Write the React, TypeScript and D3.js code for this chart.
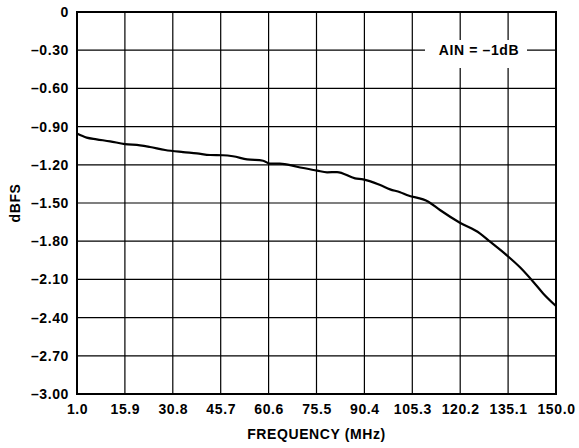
import React, { useEffect, useRef } from "react";
import * as d3 from "d3";

// frequency (MHz) and amplitude (dBFS)
const freq = [
  1.0, 4.0, 7.1, 11.3, 15.9, 20.6, 23.7, 28.4, 34.0, 38.3, 42.4, 46.4, 49.5,
  53.9, 58.9, 61.0, 64.1, 69.4, 75.7, 78.8, 81.9, 87.5, 90.0, 95.3, 98.4,
  101.5, 103.6, 110.3, 113.9, 120.1, 126.3, 129.5, 135.2, 138.8, 142.9, 146.0,
  150.0,
];
const dbfs = [
  -0.955, -0.987, -1.0, -1.016, -1.037, -1.047, -1.06, -1.084, -1.1, -1.11,
  -1.123, -1.125, -1.133, -1.157, -1.168, -1.19, -1.19, -1.215, -1.246,
  -1.259, -1.257, -1.306, -1.314, -1.359, -1.393, -1.415, -1.437, -1.49,
  -1.555, -1.655, -1.738, -1.804, -1.922, -2.005, -2.118, -2.21, -2.309,
];
const xTicks = [1.0, 15.9, 30.8, 45.7, 60.6, 75.5, 90.4, 105.3, 120.2, 135.1, 150.0];
const yTicks = [0, -0.3, -0.6, -0.9, -1.2, -1.5, -1.8, -2.1, -2.4, -2.7, -3.0];
const note = "AIN = \u20131dB";

export default function App() {
  const ref = useRef<SVGSVGElement>(null);

  useEffect(() => {
    const svg = d3.select(ref.current);
    svg.selectAll("*").remove();
    const margin = { top: 12, right: 23, bottom: 54, left: 77 };
    const width = 579 - margin.left - margin.right;
    const height = 448 - margin.top - margin.bottom;
    const font = "'Liberation Sans', Arial, sans-serif";
    const fs = 14;
    const ls = "0.6px";

    const x = d3.scaleLinear().domain([1, 150]).range([0, width]);
    const y = d3.scaleLinear().domain([-3, 0]).range([height, 0]);

    const g = svg
      .append("g")
      .attr("transform", `translate(${margin.left},${margin.top})`);

    // grid
    g.append("g")
      .selectAll("line")
      .data(xTicks)
      .join("line")
      .attr("x1", (d) => x(d))
      .attr("x2", (d) => x(d))
      .attr("y1", 0)
      .attr("y2", height)
      .attr("stroke", "#000")
      .attr("stroke-width", 1.2);
    g.append("g")
      .selectAll("line")
      .data(yTicks)
      .join("line")
      .attr("x1", 0)
      .attr("x2", width)
      .attr("y1", (d) => y(d))
      .attr("y2", (d) => y(d))
      .attr("stroke", "#000")
      .attr("stroke-width", 1.2);

    // annotation box covers the grid
    g.append("rect")
      .attr("x", 348)
      .attr("y", 28)
      .attr("width", 102)
      .attr("height", 28)
      .attr("fill", "#fff");
    g.append("text")
      .attr("x", 402)
      .attr("y", y(-0.3))
      .attr("dy", "0.35em")
      .attr("text-anchor", "middle")
      .attr("font-family", font)
      .attr("font-weight", "bold")
      .attr("font-size", fs)
      .attr("letter-spacing", ls)
      .text(note);

    // frame
    g.append("rect")
      .attr("width", width)
      .attr("height", height)
      .attr("fill", "none")
      .attr("stroke", "#000")
      .attr("stroke-width", 2);

    // curve
    const line = d3
      .line<number>()
      .x((d, i) => x(freq[i]))
      .y((d) => y(d))
      .curve(d3.curveMonotoneX);
    g.append("path")
      .datum(dbfs)
      .attr("fill", "none")
      .attr("stroke", "#000")
      .attr("stroke-width", 2.2)
      .attr("d", line);

    // axes
    const xAxis = g
      .append("g")
      .attr("transform", `translate(0,${height})`)
      .call(
        d3
          .axisBottom(x)
          .tickValues(xTicks)
          .tickSize(0)
          .tickPadding(10)
          .tickFormat((d) => d3.format(".1f")(d as number))
      );
    xAxis.select(".domain").remove();
    xAxis
      .selectAll("text")
      .attr("font-family", font)
      .attr("font-weight", "bold")
      .attr("font-size", fs)
      .attr("letter-spacing", ls)
      .attr("fill", "#000");

    const yAxis = g.append("g").call(
      d3
        .axisLeft(y)
        .tickValues(yTicks)
        .tickSize(0)
        .tickPadding(8)
        .tickFormat((d) =>
          d === 0 ? "0" : "\u2013" + d3.format(".2f")(Math.abs(d as number))
        )
    );
    yAxis.select(".domain").remove();
    yAxis
      .selectAll("text")
      .attr("font-family", font)
      .attr("font-weight", "bold")
      .attr("font-size", fs)
      .attr("letter-spacing", ls)
      .attr("fill", "#000");

    svg
      .append("text")
      .attr("x", margin.left + width / 2)
      .attr("y", 439)
      .attr("text-anchor", "middle")
      .attr("font-family", font)
      .attr("font-weight", "bold")
      .attr("font-size", fs)
      .attr("letter-spacing", ls)
      .text("FREQUENCY (MHz)");
    svg
      .append("text")
      .attr("transform", `translate(20,${margin.top + height / 2}) rotate(-90)`)
      .attr("text-anchor", "middle")
      .attr("font-family", font)
      .attr("font-weight", "bold")
      .attr("font-size", fs)
      .attr("letter-spacing", ls)
      .text("dBFS");
  }, []);

  return (
    <svg
      ref={ref}
      width={579}
      height={448}
      style={{ position: "absolute", left: 0, top: 0, background: "#fff" }}
    />
  );
}
